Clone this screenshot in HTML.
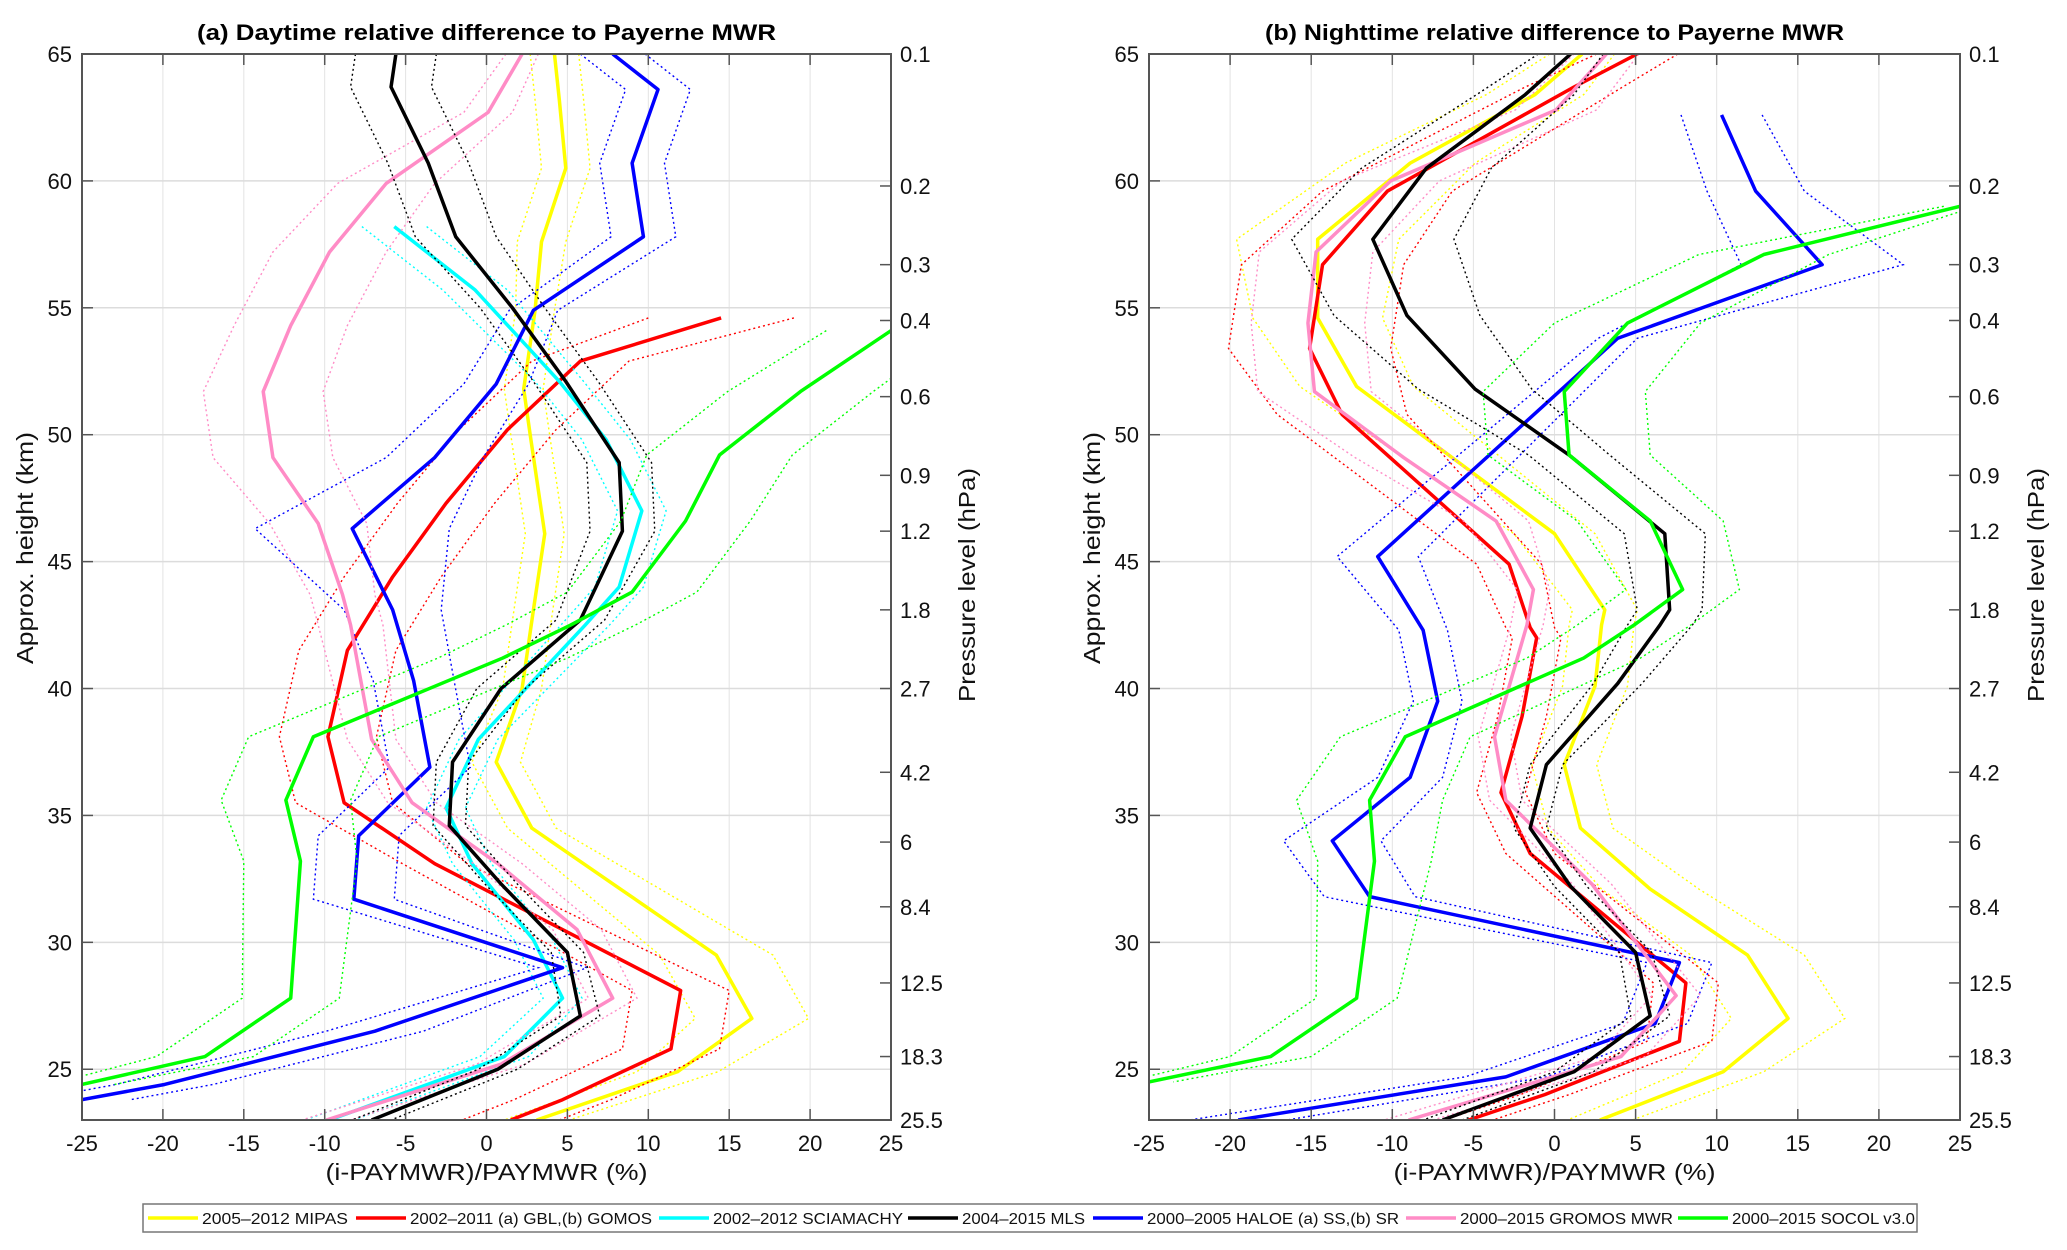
<!DOCTYPE html>
<html><head><meta charset="utf-8"><style>
html,body{margin:0;padding:0;background:#fff;}
svg{display:block;font-family:"Liberation Sans",Arial,sans-serif;}
</style></head><body>
<svg id="chart" width="2067" height="1250" viewBox="0 0 2067 1250" xmlns="http://www.w3.org/2000/svg">
<defs>
<clipPath id="clipA"><rect x="82" y="54" width="809" height="1066"/></clipPath>
<clipPath id="clipB"><rect x="1149" y="54" width="811" height="1066"/></clipPath>
</defs>
</svg>
<script>
// ---- axis data ----
const xTicks = [-25,-20,-15,-10,-5,0,5,10,15,20,25];
const kmTicks = [25,30,35,40,45,50,55,60,65];
const pLabels = ["0.1","0.2","0.3","0.4","0.6","0.9","1.2","1.8","2.7","4.2","6","8.4","12.5","18.3","25.5"];
const pKm = [65,59.8,56.7,54.5,51.5,48.4,46.2,43.1,40.0,36.7,33.95,31.4,28.4,25.5,23];

// ---- (a) Daytime series ----
const dayMipasX  = [4.2,4.5,4.9,3.4,3.0,2.3,2.7,3.6,2.9,2.2,0.6,2.8,14.2,16.4,11.8,3.1];
const dayMipasKm = [65,63.2,60.5,57.6,54.9,51.8,50,46.1,43.1,40,37.1,34.5,29.5,27.0,24.9,23];
const dayMipasErr= [1.5,1.5,1.5,1.5,1.2,1.2,1.2,1.2,1.2,1.2,1.5,1.5,3.5,3.5,2.5,2];
const dayGblX  = [14.5,5.8,1.3,-2.5,-5.8,-8.6,-9.8,-8.8,-3.2,12,11.4,4.7,1.5];
const dayGblKm = [54.6,52.9,50.2,47.3,44.4,41.5,38.1,35.5,33.1,28.1,25.8,23.8,23];
const dayGblErr= [4.5,3,3,3,3,3,3,3,2,3,3,3,3];
const daySciaX  = [-5.7,-0.7,4.5,7.4,9.6,8.2,6.1,-0.5,-2.5,-0.9,2.9,4.7,1.1,-9.7];
const daySciaKm = [58.2,55.7,52.1,49.8,47.0,44.0,42.5,38.0,35.3,33.1,30.1,27.8,25.5,23];
const daySciaErr= [2,2,1.5,1.5,1.5,1.5,1.5,1.2,1.2,1.2,1.2,1.2,1.5,1.5];
const dayMlsX  = [-5.6,-5.9,-3.6,-1.9,1.6,4.9,8.2,8.4,5.8,0.9,-2.1,-2.3,0.9,5.0,5.8,0.7,-7.1];
const dayMlsKm = [65,63.7,60.7,57.8,55.0,52.1,48.9,46.2,42.7,40,37.1,34.6,32.3,29.6,27.1,25.0,23];
const dayMlsErr= [2.5,2.5,2.5,2.5,2,2,2,2,1.5,1.5,1,1,1,1,1.2,1.2,1.2];
const dayHaloeX  = [7.8,10.6,9.0,9.7,2.9,0.6,-3.2,-8.3,-5.8,-4.5,-3.5,-7.9,-8.2,4.7,-6.9,-19.9,-25];
const dayHaloeKm = [65,63.6,60.7,57.8,54.9,52.0,49.1,46.3,43.1,40.3,36.9,34.2,31.7,29.0,26.5,24.4,23.8];
const dayHaloeErr= [2,2,2,2,1.5,2,3,6,3,2.5,2.5,2.5,2.5,1.5,3,3,3];
const dayGromosX  = [2.2,0.1,-6.2,-9.7,-12.1,-13.8,-13.2,-10.4,-8.9,-8.4,-7.1,-4.6,0.7,5.6,7.8,0.9,-9.9];
const dayGromosKm = [65,62.7,59.9,57.2,54.3,51.7,49.1,46.5,43.7,42.5,38.0,35.5,33.1,30.5,27.8,25.2,23];
const dayGromosErr= [1,1.5,3,3.5,3.5,3.7,3.7,3,2,2,1.5,1.5,1.5,1.5,1.5,1.5,1.5];
const daySocolX  = [25,19.4,14.4,12.3,9.0,5.2,1,-10.7,-12.4,-11.5,-12.1,-17.4,-25];
const daySocolKm = [54.1,51.7,49.2,46.6,43.8,42.5,41.2,38.1,35.6,33.2,27.8,25.5,24.4];
const daySocolErr= [4,4.5,4.5,4,4,4,4,4,4,3.5,3,3,2];

// ---- (b) Nighttime series ----
const nightMipasX  = [1.7,-1.2,-8.9,-14.6,-14.6,-12.2,0,3.1,2.9,2.5,0.6,1.6,5.9,11.9,14.4,10.4,2.8];
const nightMipasKm = [65,63.4,60.7,57.7,54.6,51.9,46.1,43.1,42.5,40.1,37.0,34.5,32.1,29.5,27.0,24.9,23];
const nightMipasErr= [2,3,4,5,4,3.5,2.5,2,2,2,2,2,3,3.5,3.5,2.5,2];
const nightGomosX  = [5.1,1.2,-10.3,-14.3,-15.1,-13.1,-2.8,-1.5,-1.1,-2,-3.3,-1.5,8.1,7.7,-0.6,-5.3];
const nightGomosKm = [65,63.7,59.6,56.7,53.4,50.8,44.9,42.4,42,38.9,35.9,33.5,28.4,26.1,24.0,23];
const nightGomosErr= [2.5,3,4,5,5,4,2,1.5,1.5,1.5,1.5,1.5,2,2,1.5,1.5];
const nightGromosX  = [3.2,0.1,-10.1,-14.7,-15.2,-14.8,-9.3,-3.6,-1.3,-1.7,-3.7,-3,2.3,7.5,4.1,-9];
const nightGromosKm = [65,62.8,60.0,57.2,54.4,51.7,49.1,46.6,43.9,42.5,38.1,35.6,32.3,27.9,25.5,23];
const nightGromosErr= [2,2.5,3,3.5,3.5,3.5,3,2,1,1,1,1,1.2,1.5,1.5,1.5];
const nightMlsX  = [1.0,-1.8,-7.9,-11.2,-9.1,-4.9,0.9,6.8,7.1,6.5,3.9,-0.5,-1.5,1.0,5,5.9,1.2,-6.9];
const nightMlsKm = [65,63.4,60.5,57.7,54.7,51.8,49.2,46.1,43.1,42.5,40.2,37.0,34.5,32.2,29.6,27.1,24.9,23];
const nightMlsErr= [2,3,4,5,4.5,3.5,2.5,2.5,2,2,1.5,1,1,1,1,1.2,1.2,1.2];
const nightHaloeX  = [10.3,12.4,16.5,3.9,-10.9,-8.1,-7.2,-8.9,-13.7,-11.4,7.7,6.2,-3.0,-19.5];
const nightHaloeKm = [62.6,59.6,56.7,53.8,45.2,42.3,39.5,36.5,34.0,31.8,29.2,26.8,24.7,23];
const nightHaloeErr= [2.5,3,5,1.2,2.5,1.5,1.5,2,3,2.8,2,2,2.5,3];
const nightSocolX  = [25,12.9,4.5,0.6,0.9,5.9,7.9,4.9,1.8,-9.2,-11.4,-11.1,-12.2,-17.5,-25];
const nightSocolKm = [59.0,57.1,54.4,51.7,49.2,46.6,43.9,42.5,41.2,38.1,35.6,33.2,27.8,25.5,24.5];
const nightSocolErr= [1,4,4.5,5,5,4.5,3.5,3.5,3.5,4,4.5,3.5,2.5,2.5,1.5];

const colors = {mipas:"#ffff00",red:"#ff0000",scia:"#00ffff",mls:"#000000",haloe:"#0000ff",gromos:"#ff8cc6",socol:"#00ff00"};

const NS="http://www.w3.org/2000/svg";
const svg=document.getElementById('chart');
function mk(tag,attrs,parent){const e=document.createElementNS(NS,tag);for(const k in attrs)e.setAttribute(k,attrs[k]);(parent||svg).appendChild(e);return e;}

const Y0=54, YB=1120;
function yPix(km){return Y0+(65-km)*(YB-Y0)/42;}

function drawPanel(id,x0,x1,clip,title,series){
  const xPix=v=>x0+(v+25)*(x1-x0)/50;
  const g=mk('g',{});
  
  
  // grid
  const grid=mk('g',{},g);
  
  
  xTicks.forEach(t=>{ if(t>-25&&t<25){const l=mk('line',{x1:xPix(t),x2:xPix(t),y1:Y0,y2:YB,stroke:'#e3e3e3','stroke-width':1},grid);
    
    }});
  kmTicks.forEach(t=>{ if(t<65){const l=mk('line',{x1:x0,x2:x1,y1:yPix(t),y2:yPix(t),stroke:'#dcdcdc','stroke-width':1.5},grid);
    
    }});
  // series
  const sg=mk('g',{'clip-path':'url(#'+clip+')'},g);
  
  
  series.forEach(s=>{
    const lo=s.x.map((v,i)=>xPix(v-s.e[i])+','+yPix(s.k[i])).join(' ');
    const hi=s.x.map((v,i)=>xPix(v+s.e[i])+','+yPix(s.k[i])).join(' ');
    const mid=s.x.map((v,i)=>xPix(v)+','+yPix(s.k[i])).join(' ');
    const a=mk('polyline',{points:lo,fill:'none',stroke:s.c,'stroke-width':1.4,'stroke-dasharray':'2 3'},sg);
    
    
    const b=mk('polyline',{points:hi,fill:'none',stroke:s.c,'stroke-width':1.4,'stroke-dasharray':'2 3'},sg);
    
    
    const m=mk('polyline',{points:mid,fill:'none',stroke:s.c,'stroke-width':3.5,'stroke-linejoin':'round'},sg);
    
    
  });
  // axes box
  const ax=mk('g',{},g);
  
  
  mk('rect',{x:x0,y:Y0,width:x1-x0,height:YB-Y0,fill:'none',stroke:'#555','stroke-width':2},ax);
  xTicks.forEach(t=>{
    mk('line',{x1:xPix(t),x2:xPix(t),y1:YB,y2:YB-11,stroke:'#555','stroke-width':1.5},ax);
    mk('line',{x1:xPix(t),x2:xPix(t),y1:Y0,y2:Y0+11,stroke:'#555','stroke-width':1.5},ax);
    const tx=mk('text',{x:xPix(t),y:1151,'text-anchor':'middle','font-size':22,fill:'#111'},ax);
    tx.textContent=String(t);
    
    
  });
  kmTicks.forEach(t=>{
    mk('line',{x1:x0,x2:x0+11,y1:yPix(t),y2:yPix(t),stroke:'#555','stroke-width':1.5},ax);
    const tx=mk('text',{x:x0-10,y:yPix(t)+8,'text-anchor':'end','font-size':22,fill:'#111'},ax);
    tx.textContent=String(t);
    
    
  });
  pLabels.forEach((p,i)=>{
    mk('line',{x1:x1,x2:x1-11,y1:yPix(pKm[i]),y2:yPix(pKm[i]),stroke:'#555','stroke-width':1.5},ax);
    const tx=mk('text',{x:x1+9,y:yPix(pKm[i])+8,'font-size':22,fill:'#111'},ax);
    tx.textContent=p;
    
    
  });
  const cx=(x0+x1)/2;
  const tt=mk('text',{x:cx,y:40,'text-anchor':'middle','font-size':22,'font-weight':'bold',textLength:579,lengthAdjust:'spacingAndGlyphs',fill:'#000'},g);
  tt.textContent=title;
  
  
  const xt=mk('text',{x:cx,y:1180,'text-anchor':'middle','font-size':23,textLength:322,lengthAdjust:'spacingAndGlyphs',fill:'#111'},g);
  xt.textContent='(i-PAYMWR)/PAYMWR (%)';
  
  
  const yt=mk('text',{x:0,y:0,'text-anchor':'middle','font-size':23,textLength:232,lengthAdjust:'spacingAndGlyphs',fill:'#111',transform:'translate('+(x0-49)+',548) rotate(-90)'},g);
  yt.textContent='Approx. height (km)';
  
  
  const pt=mk('text',{x:0,y:0,'text-anchor':'middle','font-size':23,textLength:234,lengthAdjust:'spacingAndGlyphs',fill:'#111',transform:'translate('+(x1+84)+',585) rotate(-90)'},g);
  pt.textContent='Pressure level (hPa)';
  
  
}

drawPanel('a',82,891,'clipA','(a) Daytime relative difference to Payerne MWR',[
 {n:'mipas',c:colors.mipas,x:dayMipasX,k:dayMipasKm,e:dayMipasErr},
 {n:'gbl',c:colors.red,x:dayGblX,k:dayGblKm,e:dayGblErr},
 {n:'sciamachy',c:colors.scia,x:daySciaX,k:daySciaKm,e:daySciaErr},
 {n:'haloe',c:colors.haloe,x:dayHaloeX,k:dayHaloeKm,e:dayHaloeErr},
 {n:'gromos',c:colors.gromos,x:dayGromosX,k:dayGromosKm,e:dayGromosErr},
 {n:'mls',c:colors.mls,x:dayMlsX,k:dayMlsKm,e:dayMlsErr},
 {n:'socol',c:colors.socol,x:daySocolX,k:daySocolKm,e:daySocolErr}
]);
drawPanel('b',1149,1960,'clipB','(b) Nighttime relative difference to Payerne MWR',[
 {n:'mipas',c:colors.mipas,x:nightMipasX,k:nightMipasKm,e:nightMipasErr},
 {n:'gomos',c:colors.red,x:nightGomosX,k:nightGomosKm,e:nightGomosErr},
 {n:'haloe',c:colors.haloe,x:nightHaloeX,k:nightHaloeKm,e:nightHaloeErr},
 {n:'gromos',c:colors.gromos,x:nightGromosX,k:nightGromosKm,e:nightGromosErr},
 {n:'mls',c:colors.mls,x:nightMlsX,k:nightMlsKm,e:nightMlsErr},
 {n:'socol',c:colors.socol,x:nightSocolX,k:nightSocolKm,e:nightSocolErr}
]);

// ---- legend ----
const legLabels=["2005\u20132012  MIPAS","2002\u20132011 (a) GBL,(b) GOMOS","2002\u20132012 SCIAMACHY","2004\u20132015 MLS","2000\u20132005 HALOE (a) SS,(b) SR","2000\u20132015 GROMOS MWR","2000\u20132015 SOCOL v3.0"];
const legColors=[colors.mipas,colors.red,colors.scia,colors.mls,colors.haloe,colors.gromos,colors.socol];
const legLineX=[148,356,659,908,1093,1406,1678];
const legTextLen=[146,242,190,123,252,213,183];
const lg=mk('g',{});


mk('rect',{x:143,y:1204,width:1774,height:28,fill:'#fff',stroke:'#777','stroke-width':1.5},lg);
legLabels.forEach((t,i)=>{
  const e=mk('g',{},lg);
  
  
  mk('line',{x1:legLineX[i],x2:legLineX[i]+50,y1:1218,y2:1218,stroke:legColors[i],'stroke-width':3.5},e);
  const tx=mk('text',{x:legLineX[i]+54,y:1224,'font-size':16,textLength:legTextLen[i],lengthAdjust:'spacingAndGlyphs',fill:'#111'},e);
  tx.textContent=t;
});
</script>
</body></html>
